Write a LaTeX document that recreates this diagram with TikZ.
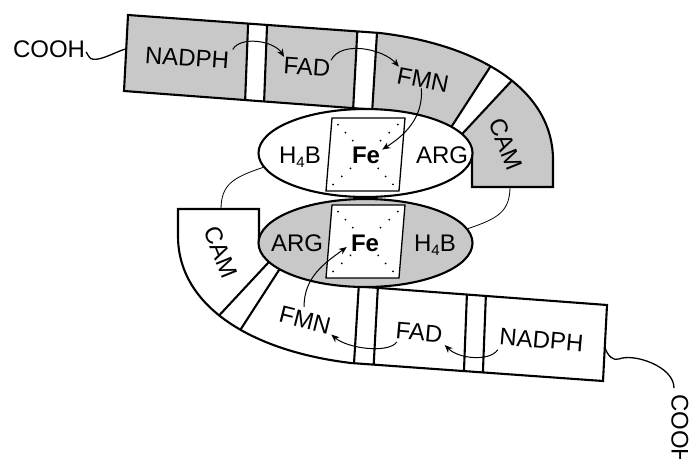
\documentclass[tikz,border=0pt]{standalone}
\usepackage{fontspec}
\setmainfont{Liberation Sans}
\usetikzlibrary{arrows.meta,calc,shapes.geometric}
\definecolor{bandgray}{RGB}{200,200,200}
\newcommand\subf[1]{\raisebox{-4pt}{\fontsize{15}{15}\selectfont #1}}
\begin{document}
\begin{tikzpicture}[x=1pt,y=-1pt,
  lbl/.style={font=\fontsize{24}{28}\selectfont, inner sep=0pt, text depth=0pt},
  fe/.style={font=\fontsize{24}{28}\selectfont\bfseries, inner sep=0pt, text depth=0pt},
  bandline/.style={line width=2.1pt, line join=miter},
  arr/.style={line width=1pt, -{Stealth[length=8pt,width=6.5pt]}},
  thinline/.style={line width=0.8pt},
  ellnode/.style={draw, ellipse, line width=2.1pt, minimum width=214pt, minimum height=88pt, inner sep=0pt},
]
\useasboundingbox (0,0) rectangle (692,458);
\clip (0,0) rectangle (692,458);
\def\bandpath{(128,15) -- (380,33) .. controls (480,45) and (553,90) .. (553,160) -- (553,187) -- (472,187) -- (472,153) -- (365,109) -- (124,91) -- cycle}
% the two bands
\foreach \rot/\col in {0/bandgray,180/white}{
  \begin{scope}[rotate around={\rot:(365.5,198)}]
    \fill[\col] \bandpath;
    \begin{scope}
      \clip \bandpath;
      \filldraw[fill=white, bandline] (249,0) -- (268,0) -- (263,130) -- (244,130) -- cycle;
      \filldraw[fill=white, bandline] (359,0) -- (379,0) -- (371,130) -- (352,130) -- cycle;
      \filldraw[fill=white, bandline] (505,44) -- (531,60) -- (450,147) -- (439,146) -- cycle;
    \end{scope}
    \draw[bandline] \bandpath;
  \end{scope}
}
% ellipses
\node[ellnode, fill=white] (e1) at (365.5,153) {};
\node[ellnode, fill=bandgray] (e2) at (365.5,243) {};
% Fe parallelograms with dots
\foreach \rot in {0,180}{
  \begin{scope}[rotate around={\rot:(365.5,198)}]
    \draw[fill=white, line width=1.3pt] (332,118) coordinate (p1) -- (405,118) coordinate (p2)
      -- (399,191) coordinate (p3) -- (326,191) coordinate (p4) -- cycle;
    \coordinate (pc) at (365.5,154.5);
    \foreach \c in {p1,p2,p3,p4}
      \foreach \t in {0.18,0.4,0.62}
        \fill ($(\c)!\t!(pc)$) circle (1);
  \end{scope}
}
% thin connectors
\coordinate (camL) at (221,209.5);
\coordinate (camR) at (510,186.5);
\draw[thinline] (e1.188) .. controls +(-30,10) and +(0,-25) .. (camL);
\draw[thinline] (e2.8) .. controls +(30,-10) and +(0,25) .. (camR);
% labels
\node[lbl, rotate=-4] (nadph1) at (187,58) {NADPH};
\node[lbl, rotate=-4] (fad1) at (307,67) {FAD};
\node[lbl, rotate=-11] (fmn1) at (423,80) {FMN};
\node[lbl, rotate=-68] (cam1) at (506,144) {CAM};
\node[lbl] (hb1) at (300,155) {H\subf{4}B};
\node[fe] (fe1) at (366,155) {Fe};
\node[lbl] (arg1) at (442,155) {ARG};
\node[lbl] (arg2) at (297,243) {ARG};
\node[fe] (fe2) at (365,243) {Fe};
\node[lbl] (hb2) at (435,243) {H\subf{4}B};
\node[lbl, rotate=-68] (cam2) at (221,252) {CAM};
\node[lbl, rotate=-14] (fmn2) at (305,320) {FMN};
\node[lbl, rotate=-5] (fad2) at (419,332.5) {FAD};
\node[lbl, rotate=-5] (nadph2) at (541.5,340) {NADPH};
\node[lbl] (cooh1) at (49,49) {COOH};
\node[lbl, rotate=-90, anchor=west] (cooh2) at (680,394) {COOH};
% electron-transfer arrows
\draw[arr] ([shift={(3,-3)}]nadph1.north east) .. controls +(8,-14) and +(-10,-16) .. (fad1.north west);
\draw[arr] (fad1.north east) .. controls +(10,-20) and +(-16,-18) .. (fmn1.north west);
\draw[arr] (fmn1.south) .. controls +(2,30) and +(22,-14) .. ([shift={(2,3)}]fe1.north east);
\draw[arr] ([shift={(-1,5)}]nadph2.south west) .. controls +(-8,12) and +(14,14) .. ([shift={(3,2)}]fad2.south east);
\draw[arr] ([shift={(2,3)}]fad2.south west) .. controls +(-8,12) and +(16,14) .. ([shift={(3,0)}]fmn2.south east);
\draw[arr] ([shift={(-3,-5)}]fmn2.north) .. controls +(0,-30) and +(-22,16) .. ([shift={(-4,4)}]fe2.west);
% COOH tails
\coordinate (bandL) at (126,49);
\coordinate (bandR) at (605,348);
\draw[line width=1.3pt] ([shift={(1,3)}]cooh1.east) .. controls +(4,7) and +(-8,1) .. ++(12,7)
  .. controls +(10,-2) and +(-6,1) .. (bandL);
\draw[line width=1.3pt] (bandR) .. controls +(3,8) and +(-6,2) .. ++(14,11)
  .. controls +(14,-6) and +(0,-22) .. ([shift={(-6,-6)}]cooh2.west);
\end{tikzpicture}
\end{document}
